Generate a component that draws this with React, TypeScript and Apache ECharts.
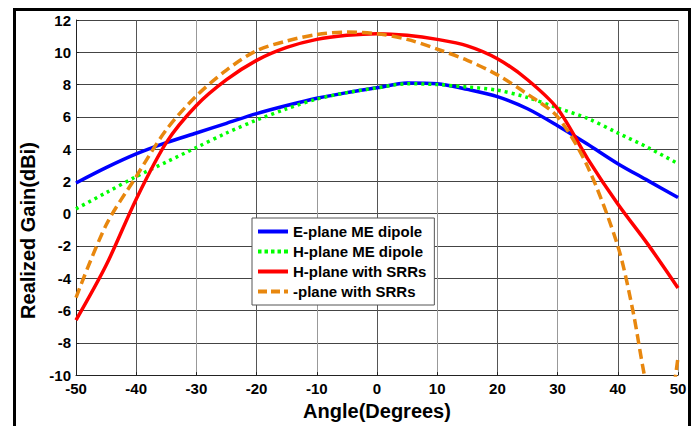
import React, { useEffect, useRef } from "react";
import * as echarts from "echarts";

const angles = [-50, -45, -40, -35, -30, -25, -20, -15, -10, -5, 0, 5, 10, 15, 20, 25, 30, 35, 40, 45, 50];
const ePlaneME = [1.9, 2.85, 3.7, 4.4, 5.0, 5.6, 6.2, 6.7, 7.15, 7.5, 7.8, 8.1, 8.05, 7.7, 7.25, 6.5, 5.45, 4.3, 3.1, 2.05, 1.0];
const hPlaneME = [0.3, 1.3, 2.3, 3.2, 4.1, 5.0, 5.8, 6.5, 7.1, 7.5, 7.8, 8.05, 8.0, 7.85, 7.65, 7.2, 6.55, 5.9, 5.0, 4.1, 3.1];
const hPlaneSRR = [-6.6, -3.2, 0.9, 4.4, 6.7, 8.3, 9.5, 10.3, 10.8, 11.05, 11.15, 11.05, 10.8, 10.4, 9.6, 8.3, 6.5, 3.4, 0.6, -1.9, -4.6];
const anglesSRR2 = [-50, -45, -40, -35, -30, -25, -20, -15, -10, -5, 0, 5, 10, 15, 20, 25, 30, 35, 40, 42.5, 45, 47.5, 50];
const planeSRR2 = [-5.2, -0.7, 2.3, 5.2, 7.3, 8.9, 10.1, 10.7, 11.1, 11.25, 11.15, 10.8, 10.2, 9.5, 8.6, 7.4, 6.0, 2.9, -2.0, -6.0, -11, -13.5, -8.9];

const seriesNames = ["E-plane ME dipole", "H-plane ME dipole", "H-plane with SRRs", "-plane with SRRs"];
const xTicks = { min: -50, max: 50, interval: 10 };
const yTicks = { min: -10, max: 12, interval: 2 };

const colors = ["#0000ff", "#00ff00", "#ff0000", "#e8870e"];
const legendIcons = [
  "path://M0,0H30V4H0Z",
  "path://M0,0h3.5v4h-3.5z M6.5,0h3.5v4h-3.5z M13,0h3.5v4h-3.5z M19.5,0h3.5v4h-3.5z M26,0h4v4h-4z",
  "path://M0,0H30V4H0Z",
  "path://M0,0h9v4h-9z M13,0h9v4h-9z M26,0h4v4h-4z",
];

const pair = (xs: number[], ys: number[]) => xs.map((x, i) => [x, ys[i]]);

const FONT = "Liberation Sans, Arial, sans-serif";

export default function App() {
  const ref = useRef<HTMLDivElement>(null);
  useEffect(() => {
    if (!ref.current) return;
    const chart = echarts.init(ref.current, null, { renderer: "svg" });
    chart.setOption({
      animation: false,
      backgroundColor: "#ffffff",
      grid: { left: 76, right: 19, top: 20, bottom: 43 },
      xAxis: {
        type: "value",
        min: xTicks.min,
        max: xTicks.max,
        interval: xTicks.interval,
        name: "Angle(Degrees)",
        nameLocation: "middle",
        nameGap: 21,
        nameTextStyle: { fontFamily: FONT, fontWeight: "bold", fontSize: 20, color: "#000" },
        axisLine: { show: true, onZero: false, lineStyle: { color: "#222", width: 1 } },
        axisTick: { show: true, inside: true, length: 3, lineStyle: { color: "#222" } },
        axisLabel: { fontFamily: FONT, fontWeight: "bold", fontSize: 15, color: "#000", margin: 6 },
        splitLine: { show: true, lineStyle: { color: ["#999", "#555"], width: 1 } },
      },
      yAxis: {
        type: "value",
        min: yTicks.min,
        max: yTicks.max,
        interval: yTicks.interval,
        name: "Realized Gain(dBi)",
        nameLocation: "middle",
        nameGap: 31,
        nameTextStyle: { fontFamily: FONT, fontWeight: "bold", fontSize: 20, color: "#000", padding: [0, 66, 0, 0] },
        axisLine: { show: true, onZero: false, lineStyle: { color: "#222", width: 1 } },
        axisTick: { show: true, inside: true, length: 3, lineStyle: { color: "#222" } },
        axisLabel: { fontFamily: FONT, fontWeight: "bold", fontSize: 15, color: "#000", margin: 5 },
        splitLine: { show: true, lineStyle: { color: "#444", width: 1 } },
      },
      legend: {
        orient: "vertical",
        left: 252,
        top: 218,
        padding: [6, 8, 6, 6],
        itemGap: 5,
        itemWidth: 30,
        itemHeight: 4,
        backgroundColor: "#fff",
        borderColor: "#555",
        borderWidth: 1,
        borderRadius: 0,
        textStyle: { fontFamily: FONT, fontWeight: "bold", fontSize: 15, color: "#000" },
        data: seriesNames.map((n, i) => ({ name: n, icon: legendIcons[i], itemStyle: { color: colors[i] } })),
      },
      graphic: [
        {
          type: "rect",
          shape: { x: 14.5, y: 9.5, width: 675, height: 500 },
          style: { fill: "none", stroke: "#000", lineWidth: 3 },
          silent: true,
          z: 100,
        },
      ],
      series: [
        {
          name: seriesNames[0],
          type: "line",
          data: pair(angles, ePlaneME),
          smooth: 0.3,
          symbol: "none",
          lineStyle: { color: colors[0], width: 3.5 },
          itemStyle: { color: colors[0] },
        },
        {
          name: seriesNames[1],
          type: "line",
          data: pair(angles, hPlaneME),
          smooth: 0.3,
          symbol: "none",
          lineStyle: { color: colors[1], width: 3.5, type: [3, 4] },
          itemStyle: { color: colors[1] },
        },
        {
          name: seriesNames[2],
          type: "line",
          data: pair(angles, hPlaneSRR),
          smooth: 0.3,
          symbol: "none",
          lineStyle: { color: colors[2], width: 3.5 },
          itemStyle: { color: colors[2] },
        },
        {
          name: seriesNames[3],
          type: "line",
          data: pair(anglesSRR2, planeSRR2),
          smooth: 0.3,
          symbol: "none",
          lineStyle: { color: colors[3], width: 3.5, type: [10, 5] },
          itemStyle: { color: colors[3] },
        },
      ],
    });
    return () => chart.dispose();
  }, []);
  return (
    <div
      ref={ref}
      style={{ position: "fixed", left: 0, top: 0, width: 697, height: 426 }}
    />
  );
}
